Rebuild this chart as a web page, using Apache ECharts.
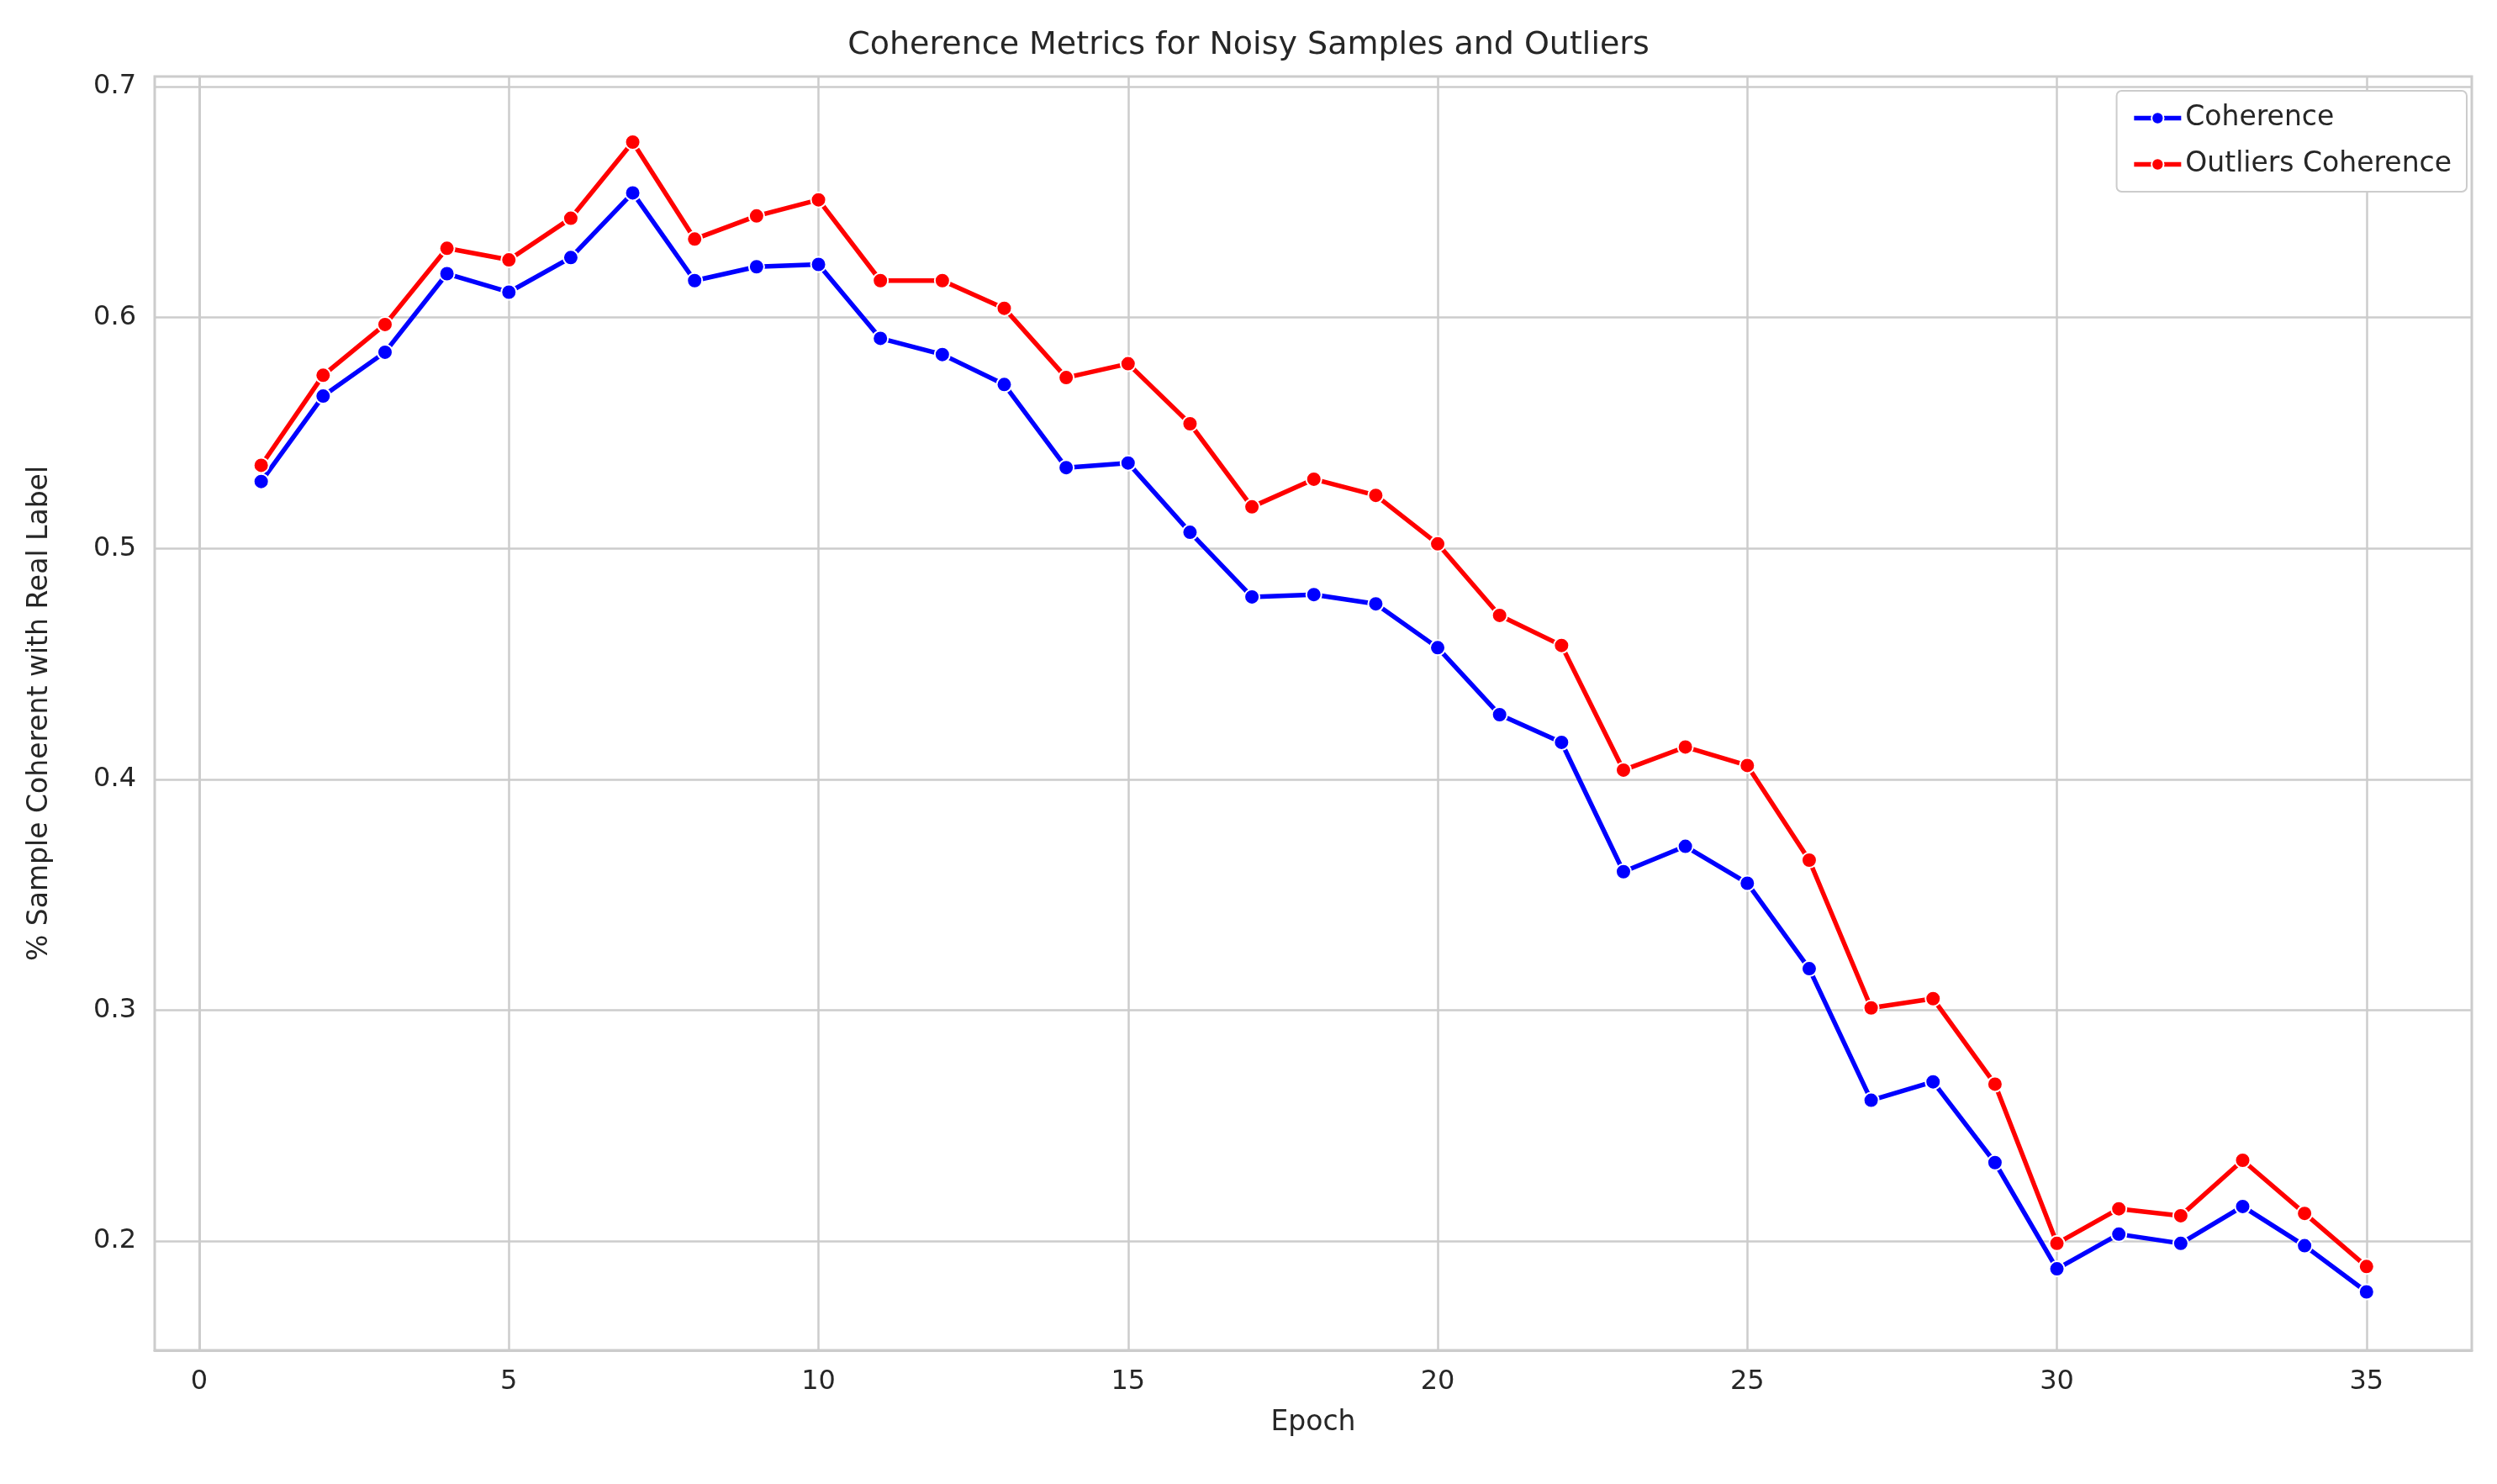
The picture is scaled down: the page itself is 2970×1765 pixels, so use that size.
<!DOCTYPE html>
<html><head><meta charset="utf-8">
<script src="https://cdn.jsdelivr.net/npm/echarts@6/dist/echarts.min.js"></script>
<style>html,body{margin:0;background:#fff}#c{width:2970px;height:1765px}</style>
</head><body><div id="c"></div>
<script>
// 数据
var epochs = [];
for (var i = 1; i <= 35; i++) epochs.push(i);
var coherence = [0.529,0.566,0.585,0.619,0.611,0.626,0.654,0.616,0.622,0.623,0.591,0.584,0.571,0.535,0.537,0.507,0.479,0.480,0.476,0.457,0.428,0.416,0.360,0.371,0.355,0.318,0.261,0.269,0.234,0.188,0.203,0.199,0.215,0.198,0.178];
var outliers = [0.536,0.575,0.597,0.630,0.625,0.643,0.676,0.634,0.644,0.651,0.616,0.616,0.604,0.574,0.580,0.554,0.518,0.530,0.523,0.502,0.471,0.458,0.404,0.414,0.406,0.365,0.301,0.305,0.268,0.199,0.214,0.211,0.235,0.212,0.189];
var xTicks = [0,5,10,15,20,25,30,35];
var yTicks = [0.2,0.3,0.4,0.5,0.6,0.7];

function pairs(arr) {
    return arr.map(function (v, i) { return [epochs[i], v]; });
}
var font = 'DejaVu Sans';
var chart = echarts.init(document.getElementById('c'));
var option = {
    animation: false,
    textStyle: {fontFamily: font},
    title: {
        text: 'Coherence Metrics for Noisy Samples and Outliers',
        left: 'center', top: 30,
        textStyle: {fontSize: 38, fontWeight: 'normal', color: '#262626', fontFamily: font}
    },
    legend: {
        right: 36, top: 108, orient: 'vertical', itemGap: 22,
        itemWidth: 56, itemHeight: 18,
        backgroundColor: '#fff', borderColor: '#ccc', borderWidth: 2, borderRadius: 6,
        padding: [16, 18, 16, 18],
        lineStyle: {width: 5.5},
        textStyle: {fontSize: 33, color: '#262626'},
        data: ['Coherence', 'Outliers Coherence']
    },
    grid: {left: 184, right: 30, top: 91, bottom: 159, show: true, borderColor: '#ccc', borderWidth: 3},
    xAxis: {
        type: 'value', min: -0.72, max: 36.7, name: 'Epoch',
        nameLocation: 'middle', nameGap: 70,
        nameTextStyle: {fontSize: 33, color: '#262626'},
        axisLine: {show: true, lineStyle: {color: '#ccc', width: 3}},
        axisTick: {show: false, customValues: xTicks},
        axisLabel: {customValues: xTicks, fontSize: 32, color: '#262626', margin: 22},
        splitLine: {show: true, lineStyle: {color: '#ccc', width: 2.5}}
    },
    yAxis: {
        type: 'value', min: 0.1527, max: 0.7044, name: '% Sample Coherent with Real Label',
        nameLocation: 'middle', nameGap: 120,
        nameTextStyle: {fontSize: 33, color: '#262626'},
        axisLine: {show: true, lineStyle: {color: '#ccc', width: 3}},
        axisTick: {show: false, customValues: yTicks},
        axisLabel: {customValues: yTicks, fontSize: 32, color: '#262626', margin: 22,
            formatter: function (v) { return v.toFixed(1); }},
        splitLine: {show: true, lineStyle: {color: '#ccc', width: 2.5}}
    },
    series: [
        {name: 'Coherence', type: 'line', data: pairs(coherence), color: 'blue',
         symbol: 'circle', symbolSize: 18, lineStyle: {width: 5.5},
         itemStyle: {color: 'blue', borderColor: '#fff', borderWidth: 2}},
        {name: 'Outliers Coherence', type: 'line', data: pairs(outliers), color: 'red',
         symbol: 'circle', symbolSize: 18, lineStyle: {width: 5.5},
         itemStyle: {color: 'red', borderColor: '#fff', borderWidth: 2}}
    ]
};
option && chart.setOption(option);
</script></body></html>
